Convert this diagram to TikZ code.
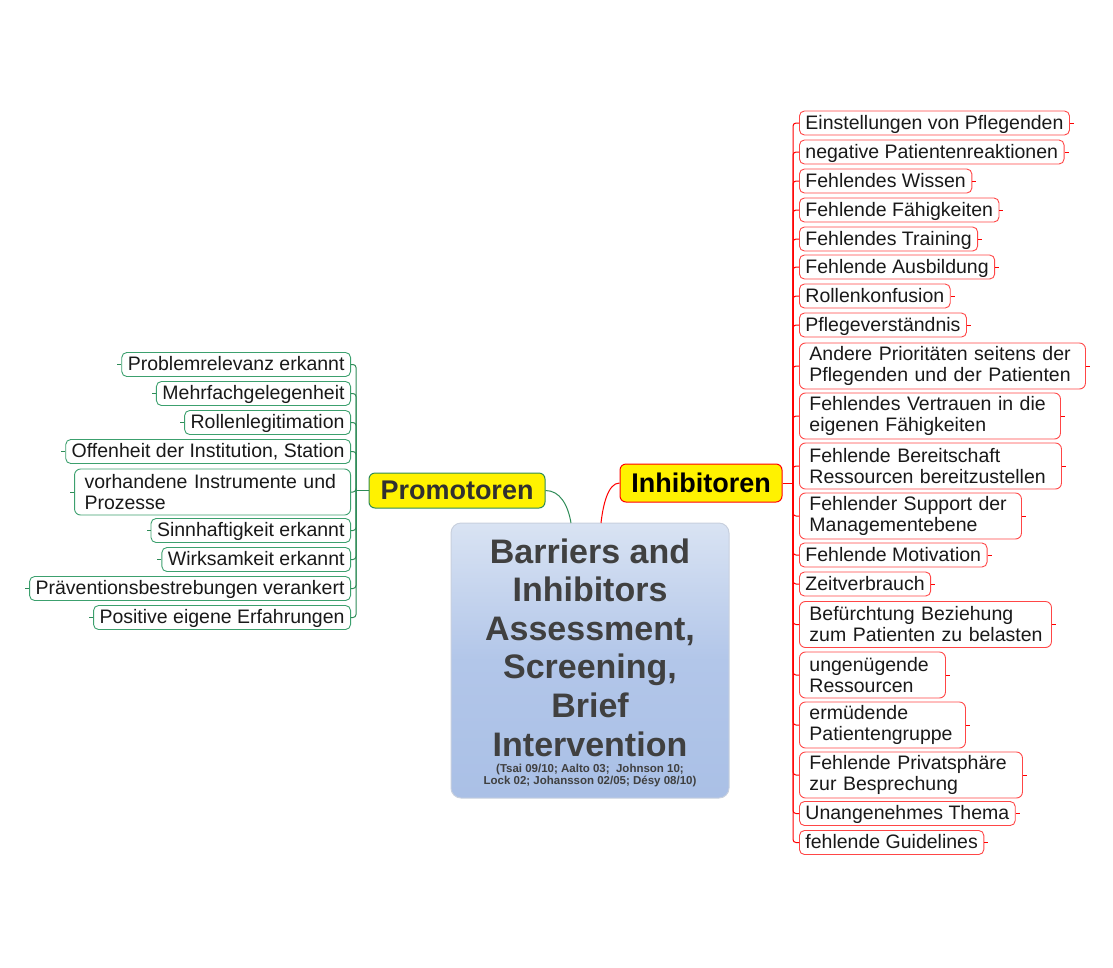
\documentclass[tikz,border=0pt]{standalone}
\usepackage{fontspec}
\setmainfont{Liberation Sans}
\definecolor{redl}{RGB}{255,0,0}
\definecolor{redbox}{RGB}{255,70,70}
\definecolor{greenl}{RGB}{46,139,87}
\definecolor{greenbox}{RGB}{60,160,110}
\definecolor{txt}{RGB}{25,25,25}
\definecolor{ctitle}{RGB}{64,64,64}
\definecolor{ctop}{RGB}{217,227,243}
\definecolor{cbot}{RGB}{170,192,230}
\definecolor{cmid}{RGB}{178,198,233}
\definecolor{cborder}{RGB}{200,208,222}
\definecolor{ptxt}{RGB}{48,48,48}
\begin{document}
\begin{tikzpicture}[x=1pt,y=-1pt,
  lbox/.style={draw, fill=white, rounded corners=5pt, line width=0.9pt,
    font=\fontsize{19.5}{21}\selectfont, text=txt, inner xsep=6pt, inner ysep=0pt,
    minimum height=24pt, text height=14pt, text depth=1.8pt},
  lboxtwo/.style={draw, fill=white, rounded corners=6pt, line width=0.9pt,
    font=\fontsize{19.5}{21}\selectfont, text=txt, inner xsep=10pt, inner ysep=0pt,
    minimum height=46pt, align=left},
  ibox/.style={lbox, draw=redbox, anchor=west},
  iboxtwo/.style={lboxtwo, draw=redbox, anchor=west},
  pbox/.style={lbox, draw=greenbox, anchor=east},
  pboxtwo/.style={lboxtwo, draw=greenbox, anchor=east},
  iline/.style={draw=redl, line width=1pt, rounded corners=3pt},
  pline/.style={draw=greenl, line width=1pt, rounded corners=3pt},
  istub/.style={draw=redl, line width=0.8pt},
  pstub/.style={draw=greenl, line width=0.8pt},
  mainbox/.style={fill=yellow, rounded corners=6pt, line width=1pt,
    font=\fontsize{27}{30}\selectfont\bfseries, inner sep=0pt},
]
\useasboundingbox (0,0) rectangle (1113,967);

% central topic
\node[draw=cborder, line width=1pt, rounded corners=10pt, top color=ctop, bottom color=cbot,
  middle color=cmid, minimum width=278pt, minimum height=275pt, inner sep=0pt] (c) at (590,660.5) {};
\node[font=\fontsize{34}{38.6}\selectfont\bfseries, text=ctitle, align=center, inner sep=0pt] (ct) at (590,647.5)
  {Barriers and\\Inhibitors\\Assessment,\\Screening,\\Brief\\Intervention};
\node[font=\fontsize{11.5}{12.6}\selectfont\bfseries, text=ctitle, align=center, inner sep=0pt] (cs) at (590,775.5)
  {(Tsai 09/10; Aalto 03;~ Johnson 10;\\Lock 02; Johansson 02/05; D\'esy 08/10)};

% main branches
\node[mainbox, draw=redl, text=black, minimum width=162pt, minimum height=38pt] (inh) at (701,483) {Inhibitoren};
\node[mainbox, draw=greenl, text=ptxt, minimum width=176pt, minimum height=35pt] (prom) at (457,490.5) {Promotoren};

\coordinate (cg) at (571,523);
\coordinate (cr) at (601,523);
\draw[pline] (prom.east) .. controls (560,490.5) and (568,505) .. (cg);
\draw[iline] (inh.west) .. controls (608,483) and (603,505) .. (cr);

% Inhibitoren leaves
\node[ibox] (i1) at (799,123) {Einstellungen von Pflegenden};
\node[ibox] (i2) at (799,152) {negative Patientenreaktionen};
\node[ibox] (i3) at (799,181) {Fehlendes Wissen};
\node[ibox] (i4) at (799,210) {Fehlende Fähigkeiten};
\node[ibox] (i5) at (799,239) {Fehlendes Training};
\node[ibox] (i6) at (799,267) {Fehlende Ausbildung};
\node[ibox] (i7) at (799,296) {Rollenkonfusion};
\node[ibox] (i8) at (799,325) {Pflegeverständnis};
\node[iboxtwo, text width=266pt] (i9) at (799,366) {\mbox{Andere Prioritäten seitens der}\\\mbox{Pflegenden und der Patienten}};
\node[iboxtwo, text width=241pt] (i10) at (799,416) {\mbox{Fehlendes Vertrauen in die}\\\mbox{eigenen Fähigkeiten}};
\node[iboxtwo, text width=242pt] (i11) at (799,466) {\mbox{Fehlende Bereitschaft}\\\mbox{Ressourcen bereitzustellen}};
\node[iboxtwo, text width=202pt] (i12) at (799,516) {\mbox{Fehlender Support der}\\\mbox{Managementebene}};
\node[ibox] (i13) at (799,555) {Fehlende Motivation};
\node[ibox] (i14) at (799,584) {Zeitverbrauch};
\node[iboxtwo, text width=232pt] (i15) at (799,624.5) {\mbox{Befürchtung Beziehung}\\\mbox{zum Patienten zu belasten}};
\node[iboxtwo, text width=126pt] (i16) at (799,675) {\mbox{ungenügende}\\\mbox{Ressourcen}};
\node[iboxtwo, text width=146pt] (i17) at (799,725) {\mbox{ermüdende}\\\mbox{Patientengruppe}};
\node[iboxtwo, text width=203pt] (i18) at (799,775) {\mbox{Fehlende Privatsphäre}\\\mbox{zur Besprechung}};
\node[ibox] (i19) at (799,813.5) {Unangenehmes Thema};
\node[ibox] (i20) at (799,842.5) {fehlende Guidelines};

\coordinate (itr) at (793,483);
\draw[iline] (inh.east) -- (itr);
\foreach \n in {1,...,20} {
  \draw[iline] (itr) |- (i\n.west);
  \draw[istub] (i\n.east) -- ++(4,0);
}

% Promotoren leaves
\node[pbox] (p1) at (351,364.5) {Problemrelevanz erkannt};
\node[pbox] (p2) at (351,393.5) {Mehrfachgelegenheit};
\node[pbox] (p3) at (351,422.5) {Rollenlegitimation};
\node[pbox] (p4) at (351,451.5) {Offenheit der Institution, Station};
\node[pboxtwo, text width=256pt] (p5) at (351,492) {\mbox{vorhandene Instrumente und}\\\mbox{Prozesse}};
\node[pbox] (p6) at (351,530.5) {Sinnhaftigkeit erkannt};
\node[pbox] (p7) at (351,559.5) {Wirksamkeit erkannt};
\node[pbox] (p8) at (351,588.5) {Präventionsbestrebungen verankert};
\node[pbox] (p9) at (351,617.5) {Positive eigene Erfahrungen};

\coordinate (ptr) at (356,490.5);
\draw[pline] (prom.west) -- (ptr);
\foreach \n in {1,...,9} {
  \draw[pline] (ptr) |- (p\n.east);
  \draw[pstub] (p\n.west) -- ++(-4,0);
}
\end{tikzpicture}
\end{document}
